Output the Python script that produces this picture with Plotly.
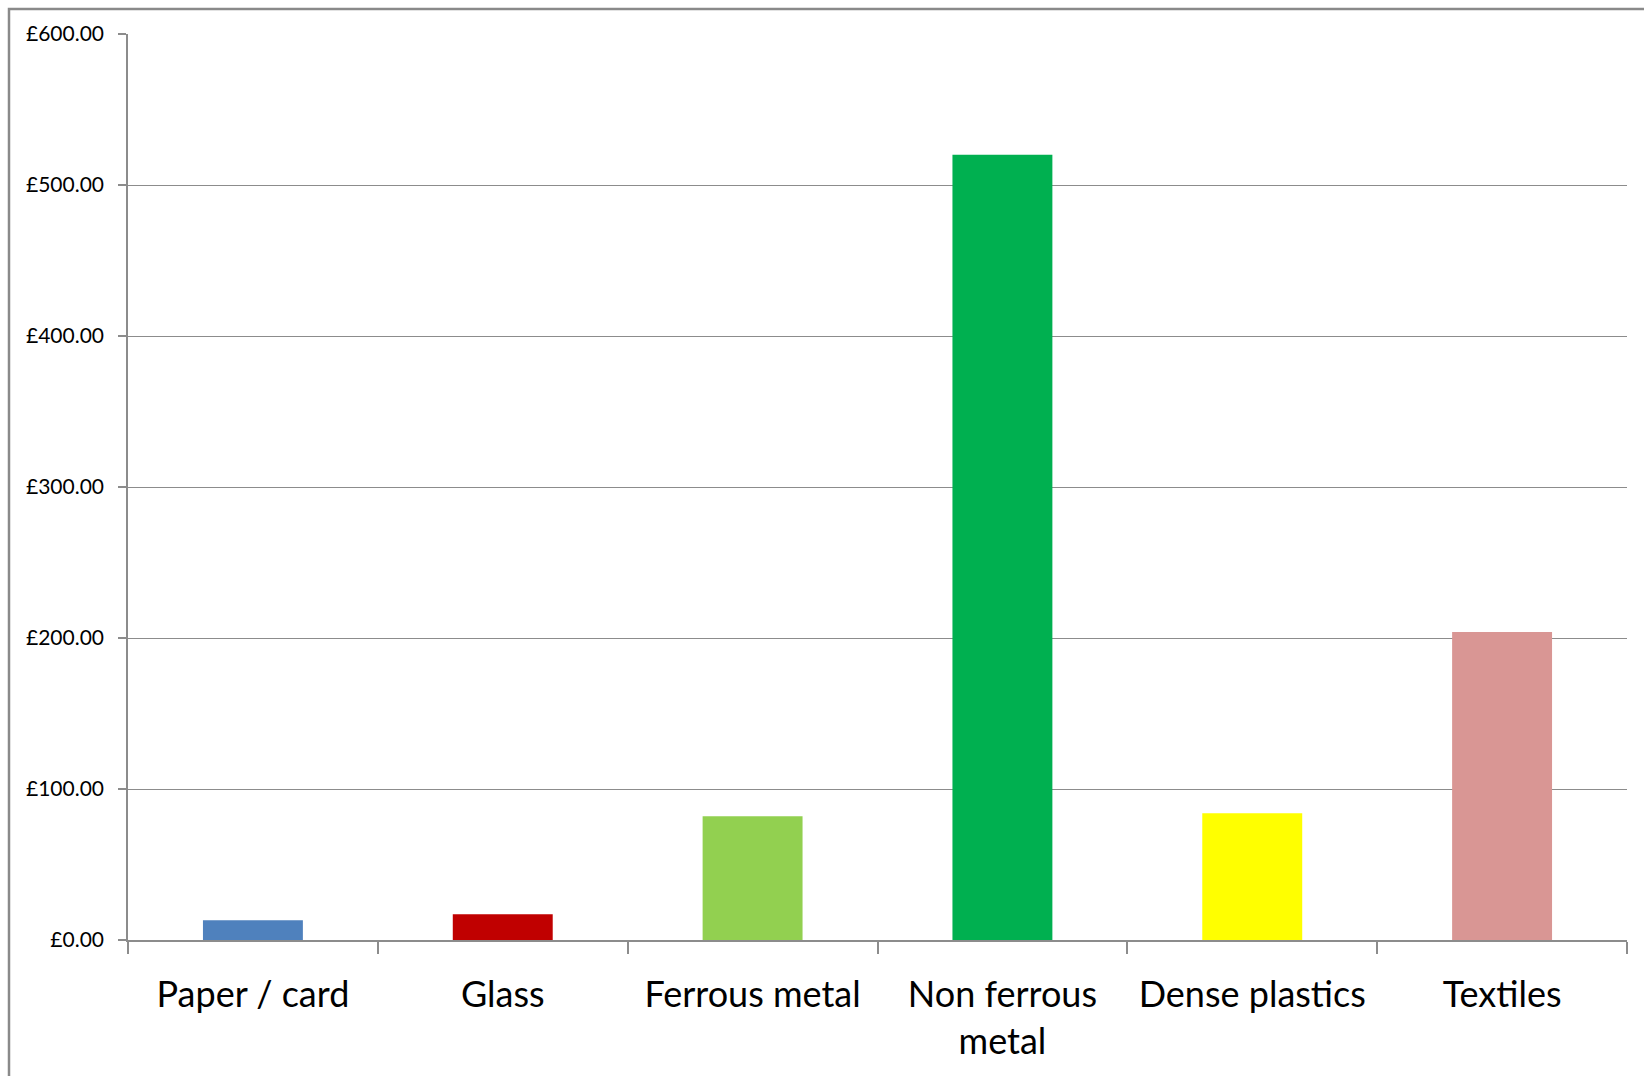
import plotly.graph_objects as go

# Value of recovered material by type (£)
categories = ["Paper / card", "Glass", "Ferrous metal", "Non ferrous<br>metal", "Dense plastics", "Textiles"]
values = [13, 17, 82, 520, 84, 204]
bar_colors = ["#4F81BD", "#C00000", "#92D050", "#00B050", "#FFFF00", "#D99694"]
y_ticks = [0, 100, 200, 300, 400, 500, 600]
y_tick_text = ["&#163;%.2f" % v for v in y_ticks]

W, H = 1644, 1076
L, R, T, B = 128, 17, 34, 136
plot_w = W - L - R
plot_h = H - T - B

fig = go.Figure(
    go.Bar(
        x=categories,
        y=values,
        marker=dict(color=bar_colors, line=dict(width=0)),
        hoverinfo="x+y",
    )
)

font_family = "Lato, 'Open Sans', sans-serif"

fig.update_layout(
    width=W,
    height=H,
    margin=dict(l=L, r=R, t=T, b=B, pad=0),
    paper_bgcolor="white",
    plot_bgcolor="white",
    bargap=0.6,
    showlegend=False,
    font=dict(family=font_family, color="#000000"),
    xaxis=dict(
        type="category",
        showline=True,
        linecolor="#8c8c8c",
        linewidth=1.5,
        ticks="outside",
        tickson="boundaries",
        ticklen=12,
        tickcolor="#8c8c8c",
        tickwidth=1.5,
        showgrid=False,
        tickfont=dict(size=36, family=font_family),
        ticklabelstandoff=22,
    ),
    yaxis=dict(
        range=[0, 600],
        tickmode="array",
        tickvals=y_ticks,
        ticktext=y_tick_text,
        showline=True,
        linecolor="#8c8c8c",
        linewidth=1.5,
        ticks="outside",
        ticklen=8,
        tickcolor="#8c8c8c",
        tickwidth=1.5,
        showgrid=True,
        gridcolor="#8c8c8c",
        gridwidth=1,
        zeroline=False,
        tickfont=dict(size=21, family=font_family),
        ticklabelstandoff=10,
    ),
)

# Outer chart frame (runs past the right and bottom edges)
def px_to_paper_x(px):
    return (px - L) / plot_w

def px_to_paper_y(py):
    return (T + plot_h - py) / plot_h

fig.add_shape(
    type="rect",
    xref="paper", yref="paper",
    x0=px_to_paper_x(9), x1=px_to_paper_x(W + 20),
    y0=px_to_paper_y(H + 20), y1=px_to_paper_y(9),
    line=dict(color="#8a8a8a", width=2.5),
    fillcolor="rgba(0,0,0,0)",
    layer="above",
)

fig.write_html("out.html")
